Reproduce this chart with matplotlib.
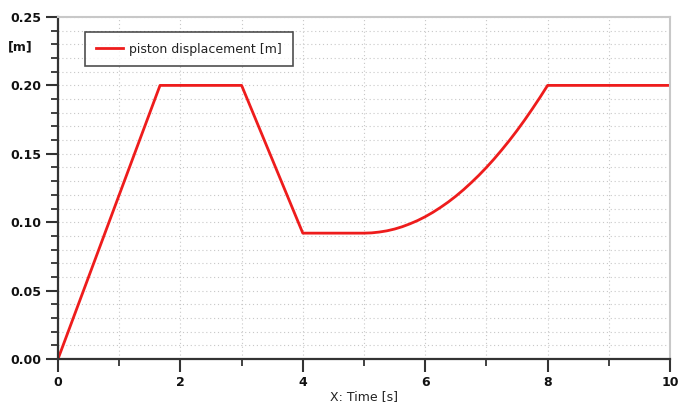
import matplotlib
matplotlib.use("Agg")
import matplotlib.pyplot as plt
from matplotlib.ticker import MultipleLocator

# piston displacement over time
time_s = [0.0, 1.667, 3.0, 4.0, 5.0, 5.125, 5.25, 5.375, 5.5, 5.625, 5.75,
          5.875, 6.0, 6.125, 6.25, 6.375, 6.5, 6.625, 6.75, 6.875, 7.0,
          7.125, 7.25, 7.375, 7.5, 7.625, 7.75, 7.875, 8.0, 10.0]
displacement_m = [0.0, 0.200, 0.200, 0.092, 0.092, 0.0922, 0.0928, 0.0937,
                  0.0950, 0.0967, 0.0988, 0.1012, 0.1040, 0.1072, 0.1108,
                  0.1147, 0.1190, 0.1237, 0.1288, 0.1342, 0.1400, 0.1462,
                  0.1528, 0.1597, 0.1670, 0.1747, 0.1828, 0.1912, 0.200, 0.200]
series_label = "piston displacement [m]"
x_label = "X: Time [s]"
y_unit = "[m]"

plt.rcParams['font.family'] = ['DejaVu Sans']

fig = plt.figure(figsize=(6.8, 4.09), dpi=100)
ax = fig.add_axes([58 / 680, 50 / 409, 612 / 680, 342 / 409])

ax.plot(time_s, displacement_m, color="#ee1c1c", lw=2.0, label=series_label)

ax.set_xlim(0, 10)
ax.set_ylim(0, 0.25)
ax.xaxis.set_major_locator(MultipleLocator(2))
ax.xaxis.set_minor_locator(MultipleLocator(1))
ax.yaxis.set_major_locator(MultipleLocator(0.05))
ax.yaxis.set_minor_locator(MultipleLocator(0.01))
ax.yaxis.set_major_formatter(plt.FormatStrFormatter("%.2f"))

ax.grid(which="both", color="#c8c8c8", linestyle=(0, (1, 2.5)), linewidth=0.8)
ax.set_axisbelow(True)

ax.tick_params(which="major", direction="out", length=9, width=1.5,
               color="#333333", labelsize=9, pad=3)
ax.tick_params(which="minor", direction="out", length=5, width=1.3,
               color="#333333")
for lab in ax.get_xticklabels() + ax.get_yticklabels():
    lab.set_fontweight("bold")
    lab.set_color("#111111")

for side in ("left", "bottom"):
    ax.spines[side].set_color("#333333")
    ax.spines[side].set_linewidth(1.6)
for side in ("top", "right"):
    ax.spines[side].set_color("#c8c8c8")
    ax.spines[side].set_linewidth(1.5)

# axis captions placed in figure coordinates
fig.text(364 / 680, 1 - 397 / 409, x_label, fontsize=9, color="#222222",
         va="center", ha="center")
fig.text(8 / 680, 1 - 47 / 409, y_unit, fontsize=9, fontweight="bold",
         color="#111111", va="center", ha="left")

leg = ax.legend(loc="upper left", bbox_to_anchor=(0.044, 0.956),
                borderaxespad=0, fontsize=9, frameon=True, fancybox=False,
                handlelength=2.2, borderpad=0.85, handletextpad=0.5)
leg.get_frame().set_edgecolor("#222222")
leg.get_frame().set_linewidth(1.2)
for t in leg.get_texts():
    t.set_color("#222222")

fig.savefig("out.png", dpi=100)
